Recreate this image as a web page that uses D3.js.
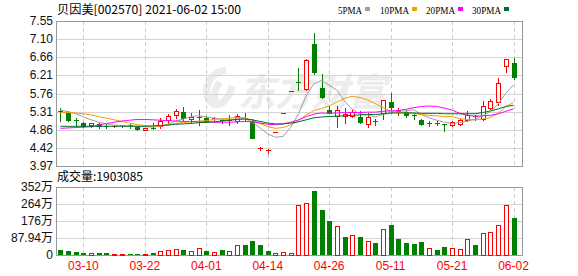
<!DOCTYPE html>
<html>
<head>
<meta charset="utf-8">
<script src="https://d3js.org/d3.v7.min.js"></script>
<style>
  body { margin: 0; background: #fff; }
  svg { display: block; }
</style>
</head>
<body>
<svg id="chart" width="578" height="276"></svg>
<script>
// trading days shown
var dates = ["03-05","03-08","03-09","03-10","03-11","03-12","03-15","03-16","03-17","03-18",
  "03-19","03-22","03-23","03-24","03-25","03-26","03-29","03-30","03-31","04-01",
  "04-02","04-06","04-07","04-08","04-09","04-12","04-13","04-14","04-15","04-16",
  "04-19","04-20","04-21","04-22","04-23","04-26","04-27","04-28","04-29","04-30",
  "05-06","05-07","05-10","05-11","05-12","05-13","05-14","05-17","05-18","05-19",
  "05-20","05-21","05-24","05-25","05-26","05-27","05-28","05-31","06-01","06-02"]

var opens = [5.33,5.27,5.11,5.03,4.98,5.00,4.96,4.94,4.95,4.97,
  4.93,4.87,4.92,4.96,5.11,5.23,5.31,5.12,5.16,5.16,
  5.12,5.11,5.10,5.09,5.15,5.08,4.40,4.35,4.80,5.28,
  5.81,6.05,5.87,6.98,5.89,5.35,5.21,5.21,5.20,5.17,
  5.00,5.07,5.27,5.56,5.33,5.30,5.22,5.11,5.02,5.03,
  5.00,4.98,5.01,5.11,5.20,5.12,5.41,5.56,6.44,6.51]
var highs = [5.39,5.33,5.15,5.05,5.04,5.02,5.00,4.97,4.98,5.01,
  4.95,4.92,5.02,5.16,5.25,5.38,5.43,5.27,5.35,5.20,
  5.18,5.13,5.23,5.25,5.27,5.13,4.44,4.39,4.80,5.28,
  5.81,6.39,6.62,7.26,6.24,5.45,5.45,5.39,5.35,5.33,
  5.27,5.14,5.60,5.78,5.39,5.35,5.29,5.14,5.09,5.08,
  5.01,5.08,5.13,5.34,5.23,5.58,5.63,6.15,6.62,6.63]
var lows = [5.08,5.09,4.96,4.94,4.93,4.90,4.92,4.93,4.94,4.92,
  4.87,4.85,4.88,4.90,5.02,5.15,5.11,5.06,4.98,5.06,
  5.10,5.02,4.97,5.03,5.10,4.67,4.37,4.30,4.80,5.28,
  5.81,5.85,5.85,6.24,5.66,5.29,4.94,5.02,5.18,5.03,
  4.94,4.98,5.12,5.30,5.23,5.18,5.13,4.99,4.96,4.98,
  4.84,4.95,4.98,5.09,5.10,5.10,5.38,5.48,6.30,6.11]
var closes = [5.31,5.11,5.10,4.96,5.02,4.96,4.95,4.96,4.97,4.96,
  4.89,4.91,4.90,5.08,5.20,5.33,5.15,5.17,5.18,5.08,
  5.15,5.08,5.11,5.21,5.16,4.67,4.41,4.36,4.80,5.28,
  5.81,6.03,6.59,6.28,5.67,5.29,5.35,5.25,5.31,5.05,
  5.19,5.08,5.60,5.43,5.34,5.22,5.21,5.01,5.03,5.02,
  4.99,5.06,5.11,5.23,5.19,5.45,5.58,6.03,6.61,6.16]

// volume in 万
var volumes = [26,21,16,12,12,12,12,7,7,7,
  7,7,11,20,26,30,26,21,34,21,
  16,26,21,50,50,72,51,21,12,16,
  12,257,271,330,232,175,149,93,101,93,
  72,62,134,155,82,62,57,67,34,26,
  41,34,29,81,51,113,118,153,257,190.3]

var ma5 = [5.35,5.31,5.26,5.18,5.11,5.05,5.01,4.98,4.97,4.96,
  4.95,4.94,4.93,4.95,5.00,5.08,5.13,5.19,5.21,5.18,
  5.15,5.13,5.12,5.13,5.14,5.05,4.91,4.76,4.68,4.70,
  4.93,5.26,5.70,6.00,6.08,5.97,5.84,5.57,5.37,5.25,
  5.23,5.18,5.25,5.27,5.33,5.33,5.36,5.24,5.16,5.10,
  5.05,5.02,5.04,5.08,5.12,5.21,5.31,5.50,5.77,5.97]
var ma10 = [5.29,5.29,5.28,5.26,5.23,5.19,5.15,5.11,5.07,5.03,
  4.99,4.97,4.95,4.96,4.98,5.02,5.04,5.06,5.08,5.09,
  5.12,5.13,5.15,5.17,5.16,5.10,5.02,4.94,4.90,4.92,
  4.99,5.08,5.23,5.34,5.39,5.45,5.55,5.64,5.69,5.66,
  5.60,5.51,5.41,5.32,5.29,5.28,5.27,5.24,5.22,5.21,
  5.19,5.19,5.14,5.12,5.11,5.13,5.17,5.27,5.43,5.54]
var ma20 = [4.90,4.91,4.92,4.93,4.94,4.98,5.02,5.05,5.08,5.10,
  5.12,5.12,5.11,5.10,5.09,5.08,5.07,5.07,5.06,5.06,
  5.05,5.05,5.05,5.06,5.07,5.06,5.03,5.00,4.99,5.01,
  5.05,5.11,5.19,5.25,5.28,5.27,5.28,5.29,5.29,5.29,
  5.30,5.30,5.32,5.33,5.34,5.37,5.41,5.44,5.45,5.44,
  5.40,5.35,5.27,5.22,5.20,5.21,5.22,5.26,5.32,5.38]
var ma30 = [4.95,4.95,4.95,4.95,4.95,4.95,4.95,4.95,4.95,4.95,
  4.95,4.95,4.96,4.97,4.98,5.00,5.01,5.02,5.04,5.05,
  5.06,5.08,5.10,5.12,5.13,5.11,5.07,5.03,5.01,5.01,
  5.03,5.06,5.11,5.16,5.18,5.19,5.20,5.21,5.22,5.23,
  5.24,5.24,5.26,5.28,5.28,5.28,5.28,5.27,5.27,5.27,
  5.26,5.26,5.26,5.26,5.26,5.29,5.33,5.38,5.44,5.47]

var priceTicks = [3.97,4.4175,4.865,5.3125,5.76,6.2075,6.655,7.1025,7.55]
var priceTickLabels = ["3.97","4.42","4.86","5.31","5.76","6.21","6.66","7.10","7.55"]
var volTicks = [0,87.94,175.88,263.82,351.76]
var volTickLabels = ["0","87.94万","176万","264万","352万"]
var xTickDates = ["03-10","03-22","04-01","04-14","04-26","05-11","05-21","06-02"]

var maNames = ["5PMA","10PMA","20PMA","30PMA"]
var maColors = ["#a0a0a0","#f0a000","#ff00ff","#006f2e"]

var svg = d3.select("#chart")
var left = 56, right = 522
var mainTop = 21, mainBottom = 166
var volTop = 187, volBottom = 255
var RED = "#ff0000", GREEN = "#008000"

var x = d3.scaleLinear().domain([0, dates.length - 1]).range([60.4, 513.5])
var y = d3.scaleLinear().domain([3.97, 7.55]).range([mainBottom, mainTop])
var yv = d3.scaleLinear().domain([0, 351.76]).range([volBottom, volTop])

function px(i) { return Math.round(x(i)) + 0.5 }

// title
svg.append("text")
  .attr("x", 57).attr("y", 14)
  .attr("font-family", "'Noto Sans CJK SC', sans-serif")
  .attr("font-size", 12)
  .attr("textLength", 184).attr("lengthAdjust", "spacingAndGlyphs")
  .text("贝因美[002570] 2021-06-02 15:00")

// legend
var legX = [338, 380, 426, 472], legW = [24, 29, 29, 29]
maNames.forEach(function(n, k) {
  svg.append("text")
    .attr("x", legX[k]).attr("y", 13.5)
    .attr("font-family", "'Liberation Serif', serif")
    .attr("font-size", 11)
    .attr("textLength", legW[k]).attr("lengthAdjust", "spacingAndGlyphs")
    .text(n)
  svg.append("rect")
    .attr("x", legX[k] + legW[k] + 3).attr("y", 7)
    .attr("width", 5).attr("height", 4)
    .attr("fill", maColors[k])
})

// watermark
svg.append("text")
  .attr("x", 238).attr("y", 106)
  .attr("font-family", "'Noto Sans CJK SC', sans-serif")
  .attr("font-size", 38).attr("font-weight", "bold")
  .attr("font-style", "italic")
  .attr("fill", "#ececec")
  .attr("textLength", 148).attr("lengthAdjust", "spacingAndGlyphs")
  .text("东方财富")
svg.append("path")
  .attr("d", "M226,70 C206,72 200,98 214,104 C222,107 230,96 232,86 M220,82 C214,90 212,99 218,100")
  .attr("fill", "none").attr("stroke", "#ececec").attr("stroke-width", 7)

var grid = svg.append("g").attr("shape-rendering", "crispEdges")

// horizontal grid, price panel
grid.selectAll(".hp").data(priceTicks.slice(1, -1)).enter().append("line")
  .attr("x1", left).attr("x2", right)
  .attr("y1", function(d) { return Math.round(y(d)) + 0.5 })
  .attr("y2", function(d) { return Math.round(y(d)) + 0.5 })
  .attr("stroke", "#d4d4d4")
grid.selectAll(".hv").data(volTicks.slice(1, -1)).enter().append("line")
  .attr("x1", left).attr("x2", right)
  .attr("y1", function(d) { return Math.round(yv(d)) + 0.5 })
  .attr("y2", function(d) { return Math.round(yv(d)) + 0.5 })
  .attr("stroke", "#d4d4d4")

// vertical dashed grid
var xTickIdx = xTickDates.map(function(d) { return dates.indexOf(d) })
;[[mainTop, mainBottom], [volTop, volBottom]].forEach(function(r) {
  grid.selectAll(null).data(xTickIdx).enter().append("line")
    .attr("x1", px).attr("x2", px)
    .attr("y1", r[0]).attr("y2", r[1])
    .attr("stroke", "#cccccc").attr("stroke-dasharray", "4,3")
})

// frames
grid.append("rect").attr("x", left + 0.5).attr("y", mainTop + 0.5)
  .attr("width", right - left).attr("height", mainBottom - mainTop)
  .attr("fill", "none").attr("stroke", "#999")
grid.append("rect").attr("x", left + 0.5).attr("y", volTop + 0.5)
  .attr("width", right - left).attr("height", volBottom - volTop)
  .attr("fill", "none").attr("stroke", "#999")

// y labels
svg.selectAll(".pl").data(priceTicks).enter().append("text")
  .attr("x", 53).attr("y", function(d) { return y(d) + 4 })
  .attr("text-anchor", "end")
  .attr("font-family", "'Liberation Sans', Arial, sans-serif")
  .attr("font-size", 12).attr("fill", "#111")
  .text(function(d, i) { return priceTickLabels[i] })
svg.selectAll(".vl").data(volTicks).enter().append("text")
  .attr("x", 53).attr("y", function(d) { return yv(d) + 4 })
  .attr("text-anchor", "end")
  .attr("font-family", "'Liberation Sans', 'Noto Sans CJK SC', sans-serif")
  .attr("font-size", 12).attr("fill", "#111")
  .text(function(d, i) { return volTickLabels[i] })

// x labels
svg.selectAll(".xl").data(xTickIdx).enter().append("text")
  .attr("x", function(d) { return x(d) }).attr("y", 270)
  .attr("text-anchor", "middle")
  .attr("font-family", "'Liberation Sans', Arial, sans-serif")
  .attr("font-size", 12).attr("fill", RED)
  .text(function(d, i) { return xTickDates[i] })

// volume title
svg.append("text")
  .attr("x", 57).attr("y", 181)
  .attr("font-family", "'Noto Sans CJK SC', sans-serif")
  .attr("font-size", 12)
  .text("成交量:1903085")

var idx = d3.range(dates.length)

// candles
var cg = svg.append("g").attr("shape-rendering", "crispEdges")
idx.forEach(function(i) {
  var up = closes[i] >= opens[i]
  var col = up ? RED : GREEN
  var cx = px(i)
  cg.append("line")
    .attr("x1", cx).attr("x2", cx)
    .attr("y1", Math.round(y(highs[i]))).attr("y2", Math.round(y(lows[i])) + 1)
    .attr("stroke", col)
  var yt = Math.round(y(Math.max(opens[i], closes[i])))
  var yb = Math.round(y(Math.min(opens[i], closes[i])))
  if (yb - yt < 2) {
    cg.append("rect").attr("x", cx - 2.5).attr("y", yt)
      .attr("width", 5).attr("height", 1).attr("fill", col)
  } else if (up) {
    cg.append("rect").attr("x", cx - 2).attr("y", yt + 0.5)
      .attr("width", 4).attr("height", yb - yt)
      .attr("fill", "#fff").attr("stroke", col)
  } else {
    cg.append("rect").attr("x", cx - 2.5).attr("y", yt)
      .attr("width", 5).attr("height", yb - yt + 1)
      .attr("fill", col)
  }
})

// moving averages
var line = d3.line()
  .x(function(d, i) { return x(i) })
  .y(function(d) { return y(d) })
;[ma5, ma10, ma20, ma30].forEach(function(s, k) {
  svg.append("path")
    .datum(s)
    .attr("fill", "none")
    .attr("stroke", maColors[k])
    .attr("stroke-width", 1)
    .attr("d", line)
})

// volume bars
var vg = svg.append("g").attr("shape-rendering", "crispEdges")
idx.forEach(function(i) {
  var up = i === 0 ? closes[i] >= opens[i] : closes[i] >= closes[i - 1]
  var cx = px(i)
  var top = Math.round(yv(volumes[i]))
  if (up) {
    vg.append("rect").attr("x", cx - 2).attr("y", top + 0.5)
      .attr("width", 4).attr("height", volBottom - top - 0.5)
      .attr("fill", "#fff").attr("stroke", RED)
  } else {
    vg.append("rect").attr("x", cx - 2.5).attr("y", top)
      .attr("width", 5).attr("height", volBottom - top)
      .attr("fill", GREEN)
  }
})
</script>
</body>
</html>
